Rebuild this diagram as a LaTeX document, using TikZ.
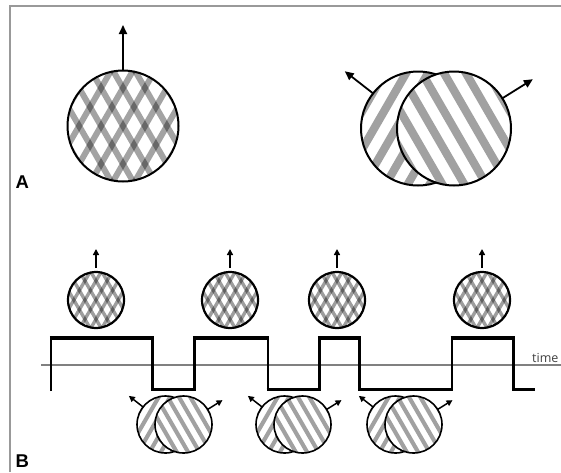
\documentclass[tikz,border=0pt]{standalone}
\usepackage{fontspec}
\newfontfamily\labfont{Liberation Sans}
\newfontfamily\timefont{Open Sans}
\usetikzlibrary{arrows.meta,calc}
\newcommand\gratefill[5]{% angle, spacing, width, colour, opacity
  \foreach \k in {-6,...,6}{%
    \pgfmathsetmacro\off{\k*#2}%
    \draw[line width=#3pt, draw=#4, draw opacity=#5, line cap=butt]
      ($(path picture bounding box.center)+(#1+90:\off pt)$) ++(#1:-90pt) -- ++(#1:180pt);
  }}
\tikzset{
  outl/.style={circle, draw=black, fill=white, inner sep=0pt, outer sep=0pt},
  plaidbig/.style={outl, line width=2pt, minimum size=111pt,
    path picture={\gratefill{60}{19}{6}{black}{0.36}\gratefill{120}{19}{6}{black}{0.36}}},
  plaidsmall/.style={outl, line width=2.2pt, minimum size=56pt,
    path picture={\gratefill{60}{9.6}{3.4}{black}{0.38}\gratefill{120}{9.6}{3.4}{black}{0.38}}},
  leftbig/.style={outl, line width=2pt, minimum size=114pt,
    path picture={\gratefill{60}{19}{8.2}{black!37}{1}}},
  rightbig/.style={outl, line width=2pt, minimum size=114pt,
    path picture={\gratefill{120}{19}{8.2}{black!37}{1}}},
  leftsmall/.style={outl, line width=1.6pt, minimum size=57pt,
    path picture={\gratefill{60}{9.8}{4.1}{black!37}{1}}},
  rightsmall/.style={outl, line width=1.6pt, minimum size=57pt,
    path picture={\gratefill{120}{9.8}{4.1}{black!37}{1}}},
  bigarr/.style={line width=1.8pt, -{Triangle[length=9pt,width=8pt]}},
  smallarr/.style={line width=1.5pt, -{Triangle[length=6pt,width=6pt]}},
  frameline/.style={draw=black!40, line width=2.2pt},
  hiwave/.style={line width=3.8pt, line cap=butt},
  vwave/.style={line width=2.4pt, line cap=butt},
  axisline/.style={draw=black!50, line width=1.2pt},
  panel/.style={font=\labfont\bfseries\fontsize{18.5}{18.5}\selectfont, inner sep=0pt},
  timelab/.style={font=\timefont\fontsize{12.5}{12.5}\selectfont, text=black!75, inner sep=0pt}
}
\begin{document}
\begin{tikzpicture}[x=1pt,y=-1pt]
\useasboundingbox (0,0) rectangle (561,472);
% frame
\draw[frameline] (10,472) -- (10,6) -- (561,6);
% ---------- panel A ----------
\node[plaidbig] (P) at (123,126) {};
\coordinate (Pt) at (123,25);
\draw[bigarr] (P.north) -- (Pt);
\node[leftbig] (L) at (418,128.5) {};
\node[rightbig] (R) at (454,128.5) {};
\coordinate (Lt) at ($(L.center)+(142:93pt)$);
\coordinate (Rt) at ($(R.center)+(32:93pt)$);
\draw[bigarr] (L.142) -- (Lt);
\draw[bigarr] (R.32) -- (Rt);
\node[panel, anchor=base west] (labA) at (15.5,188) {A};
% ---------- panel B ----------
\draw[axisline] (41,365) -- (561,365);
\node[timelab, anchor=base west] (time) at (532,362) {time};
% square wave: horizontals
\foreach \a/\b in {49.8/153.5, 192.8/269, 317.8/360.5, 450.5/514.5}
  \draw[hiwave] (\a,338) -- (\b,338);
\foreach \a/\b in {151/195.5, 266.5/320.5, 358/453, 512/535}
  \draw[hiwave] (\a,389.5) -- (\b,389.5);
% verticals
\draw[vwave] (51,391) -- (51,336.5);
\foreach \x in {152.3,194.3,267.7,319.3,359.3,451.7,513.3}
  \draw[vwave] (\x,336.5) -- (\x,391);
% small plaid circles
\foreach \n/\x in {1/96,2/230,3/337,4/482}{
  \node[plaidsmall] (p\n) at (\x,300) {};
  \coordinate (p\n t) at (\x,249);
  \draw[smallarr, shorten <=4pt] (p\n.north) -- (p\n t);
}
% small pairs
\foreach \n/\x in {1/165.5,2/284.5,3/395.5}{
  \node[leftsmall] (l\n) at (\x,424.5) {};
  \node[rightsmall] (r\n) at (\x+18,424.5) {};
  \coordinate (l\n t) at ($(l\n.center)+(142:46.5pt)$);
  \coordinate (r\n t) at ($(r\n.center)+(32:46pt)$);
  \draw[smallarr] (l\n.142) -- (l\n t);
  \draw[smallarr] (r\n.32) -- (r\n t);
}
\node[panel, anchor=base west] (labB) at (15.5,467) {B};
\end{tikzpicture}
\end{document}
